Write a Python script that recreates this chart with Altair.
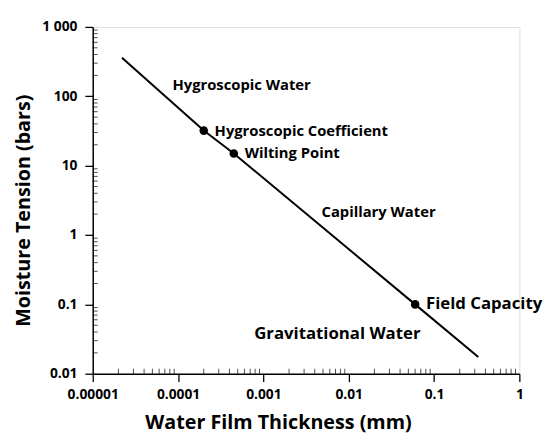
import altair as alt
import pandas as pd

# Curve (straight line on log-log axes)
line_x = [0.000022, 0.0002, 0.00045, 0.06, 0.33]
line_y = [360, 32, 15, 0.1, 0.0175]

# Key points
pt_names = ["Hygroscopic Coefficient", "Wilting Point", "Field Capacity"]
pt_x = [0.0002, 0.00045, 0.06]
pt_y = [32, 15, 0.1]

# Region labels
reg_names = ["Hygroscopic Water", "Capillary Water", "Gravitational Water"]
reg_x = [0.000086, 0.0048, 0.00078]
reg_y = [145, 2.14, 0.037]

# Axis ticks
x_tick_values = [0.00001, 0.0001, 0.001, 0.01, 0.1, 1]
x_tick_labels = ["0.00001", "0.0001", "0.001", "0.01", "0.1", "1"]
y_tick_values = [0.01, 0.1, 1, 10, 100, 1000]
y_tick_labels = ["0.01", "0.1", "1", "10", "100", "1 000"]


def minor(decades):
    out = []
    for d in decades[:-1]:
        for m in range(2, 10):
            out.append(float(f"{m * d:.10g}"))
    return out


x_minor = minor(x_tick_values)
y_minor = minor(y_tick_values)

W, H = 433, 352
FONT = "Open Sans"
BIG = ["Field Capacity", "Gravitational Water"]


def js_list(vals):
    return "[" + ",".join("'" + v + "'" if isinstance(v, str) else repr(v) for v in vals) + "]"


def label_expr(vals, labels):
    v = js_list(vals)
    l = js_list(labels)
    return f"indexof({v}, datum.value) >= 0 ? {l}[indexof({v}, datum.value)] : ''"


xscale = alt.Scale(type="log", domain=[0.00001, 1], nice=False)
yscale = alt.Scale(type="log", domain=[0.01, 1000], nice=False)

common = dict(
    labelFont=FONT, labelFontSize=14, labelFontWeight="bold", labelColor="black",
    labelFlush=False, labelOverlap=False, tickSize=8,
    titleFont=FONT, titleFontSize=20, titleFontWeight="bold", titleColor="black",
    titleAlign="center", titleBaseline="middle",
    domainColor="black", tickColor="black", domainWidth=1.5, tickWidth=1.3, grid=False,
)

xaxis = alt.Axis(
    values=x_tick_values,
    labelExpr=label_expr(x_tick_values, x_tick_labels),
    labelPadding=6,
    title="Water Film Thickness (mm)",
    titleX=188, titleY=50,
    **common,
)
yaxis = alt.Axis(
    values=y_tick_values,
    labelExpr=label_expr(y_tick_values, y_tick_labels),
    labelPadding=8,
    title="Moisture Tension (bars)",
    titleX=-70, titleY=186, titleAngle=-90,
    **common,
)

line_df = pd.DataFrame({"x": line_x, "y": line_y})
pt_df = pd.DataFrame({"name": pt_names, "x": pt_x, "y": pt_y})
reg_df = pd.DataFrame({"name": reg_names, "x": reg_x, "y": reg_y})
xm_df = pd.DataFrame({"v": x_minor})
ym_df = pd.DataFrame({"v": y_minor})

big_test = f"indexof({js_list(BIG)}, datum.name) >= 0"
small_test = f"indexof({js_list(BIG)}, datum.name) < 0"

base_line = alt.Chart(line_df).mark_line(color="black", strokeWidth=2).encode(
    x=alt.X("x:Q", scale=xscale, axis=xaxis),
    y=alt.Y("y:Q", scale=yscale, axis=yaxis),
)

points = alt.Chart(pt_df).mark_point(filled=True, color="black", size=75, opacity=1).encode(
    x=alt.X("x:Q", scale=xscale), y=alt.Y("y:Q", scale=yscale)
)

enc = dict(x=alt.X("x:Q", scale=xscale), y=alt.Y("y:Q", scale=yscale), text="name:N")
txt = dict(align="left", baseline="middle", font=FONT, fontWeight="bold", color="black")

pt_text = alt.Chart(pt_df).mark_text(dx=11, fontSize=15, **txt).encode(**enc).transform_filter(small_test)
pt_text_big = alt.Chart(pt_df).mark_text(dx=11, fontSize=17, **txt).encode(**enc).transform_filter(big_test)
reg_text = alt.Chart(reg_df).mark_text(fontSize=15, **txt).encode(**enc).transform_filter(small_test)
reg_text_big = alt.Chart(reg_df).mark_text(fontSize=17, **txt).encode(**enc).transform_filter(big_test)

# minor ticks drawn on the inside of the axes
x_minor_ticks = alt.Chart(xm_df).mark_tick(color="black", thickness=1, size=5, orient="vertical").encode(
    x=alt.X("v:Q", scale=xscale), y=alt.value(H - 2.5)
)
y_minor_ticks = alt.Chart(ym_df).mark_tick(color="black", thickness=1, size=5, orient="horizontal").encode(
    y=alt.Y("v:Q", scale=yscale), x=alt.value(2.5)
)

chart = (
    alt.layer(base_line, x_minor_ticks, y_minor_ticks, points,
              pt_text, pt_text_big, reg_text, reg_text_big)
    .properties(
        width=W,
        height=H,
        autosize=alt.AutoSizeParams(type="none"),
        padding={"left": 86, "top": 16, "right": 25, "bottom": 61},
    )
    .configure_view(stroke=None)
    .configure(background="white")
)

chart.save("out.html", embed_options={"renderer": "svg", "actions": False})
